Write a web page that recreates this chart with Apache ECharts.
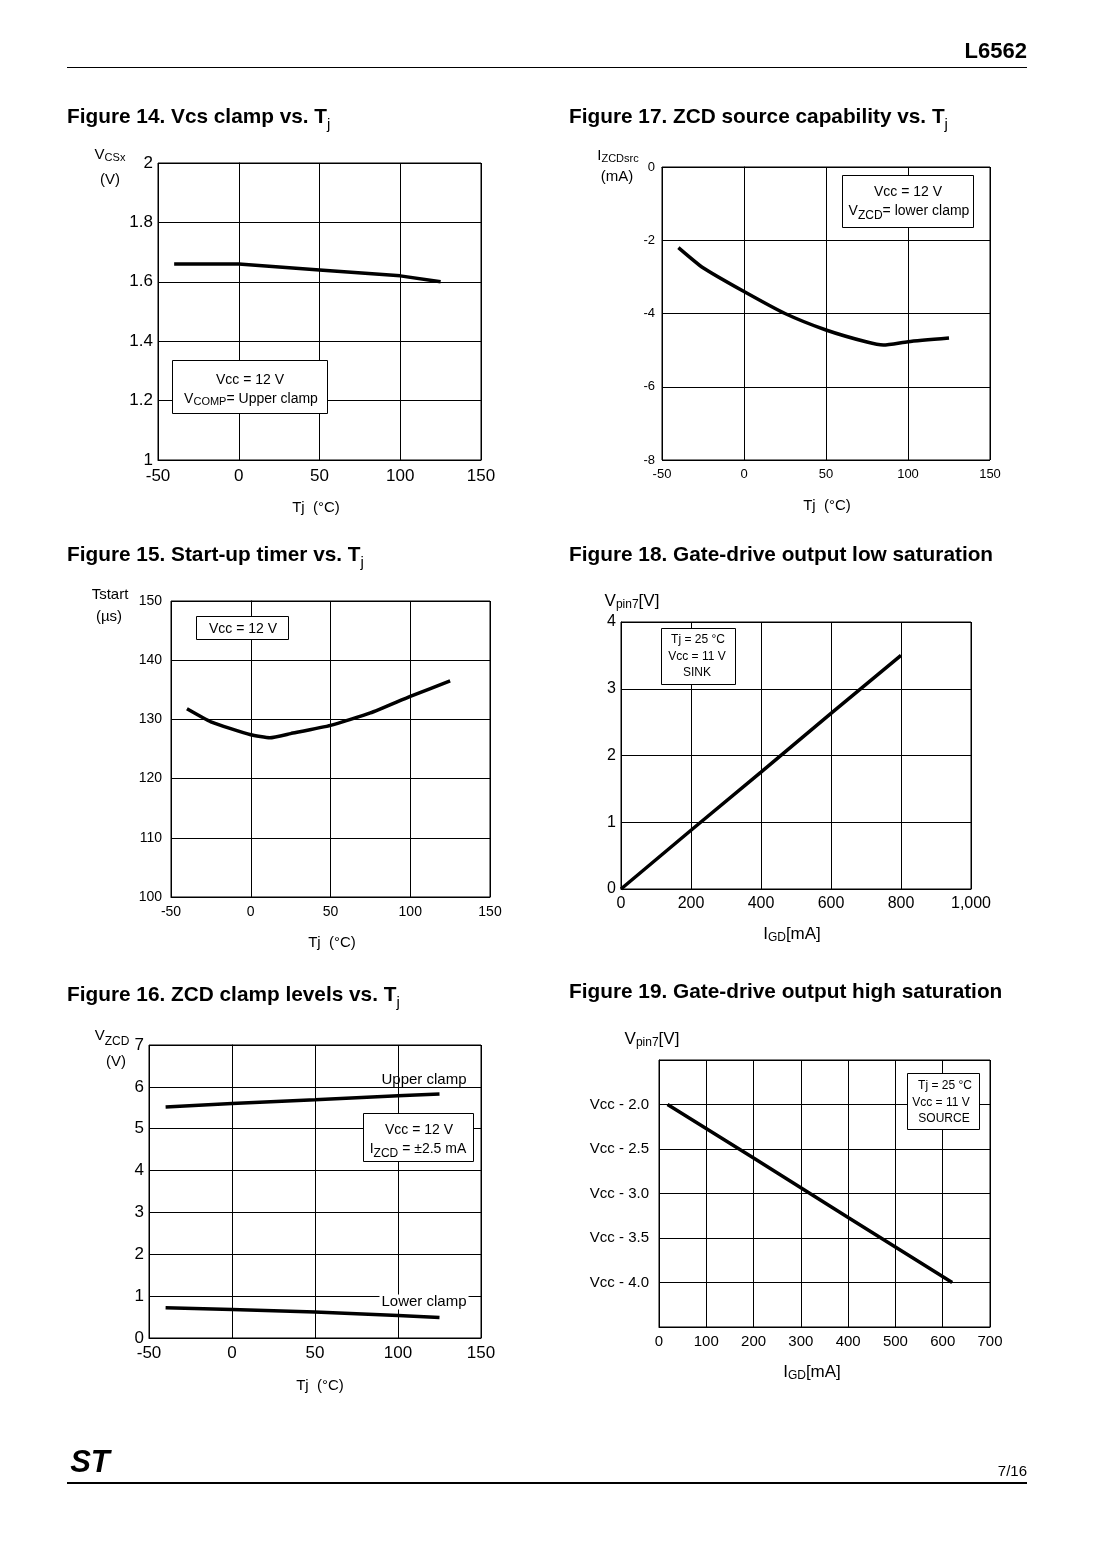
<!DOCTYPE html>
<html><head><meta charset="utf-8">
<script src="https://cdn.jsdelivr.net/npm/echarts@6/dist/echarts.min.js"></script>
<style>html,body{margin:0;padding:0;background:#fff}#c{width:1094px;height:1550px}</style>
</head><body><div id="c"></div>
<script>
// ---- Data ----
// Figure 14: Vcs clamp vs Tj
const tj14 = [-40, 0, 50, 100, 125];
const vcs14 = [1.66, 1.66, 1.64, 1.62, 1.60];
// Figure 15: Start-up timer vs Tj
const tj15 = [-40, -25, 0, 12, 25, 50, 75, 100, 125];
const tstart15 = [131.8, 129.6, 127.4, 126.9, 127.6, 129.0, 131.1, 133.9, 136.5];
// Figure 16: ZCD clamp levels vs Tj
const tj16 = [-40, 0, 50, 100, 125];
const upper16 = [5.52, 5.60, 5.69, 5.79, 5.83];
const lower16 = [0.72, 0.68, 0.62, 0.54, 0.49];
// Figure 17: ZCD source capability vs Tj
const tj17 = [-40, -25, 0, 25, 50, 75, 85, 100, 125];
const izcd17 = [-2.2, -2.75, -3.4, -4.0, -4.45, -4.78, -4.86, -4.77, -4.67];
// Figure 18: Gate-drive output low saturation
const igd18 = [0, 200, 400, 600, 800];
const vpin18 = [0, 0.88, 1.75, 2.63, 3.5];
// Figure 19: Gate-drive output high saturation (value relative to Vcc)
const igd19 = [18, 200, 400, 620];
const vpin19 = [-2.0, -2.6, -3.27, -4.0];

const FF = "'Liberation Sans', Arial, Helvetica, sans-serif";
const pairs = (xs, ys) => xs.map((x, i) => [x, ys[i]]);

const grids = [
  {left: 158, top: 163, width: 323, height: 297}, // 14
  {left: 662, top: 167, width: 328, height: 293}, // 17
  {left: 171, top: 601, width: 319, height: 296}, // 15
  {left: 621, top: 622, width: 350, height: 267}, // 18
  {left: 149, top: 1045, width: 332, height: 293}, // 16
  {left: 659, top: 1060, width: 331, height: 267}  // 19
].map(g => Object.assign({show: true, borderColor: '#000', borderWidth: 1, backgroundColor: '#fff'}, g));

function axis(gi, min, max, interval, fs, margin, fmt) {
  return {
    type: 'value', gridIndex: gi, min, max, interval,
    axisTick: {show: false},
    axisLine: {show: true, lineStyle: {color: '#000', width: 1}},
    splitLine: {show: true, lineStyle: {color: '#000', width: 1}},
    axisLabel: {fontSize: fs, color: '#000', fontFamily: FF, margin, formatter: fmt,
                showMinLabel: true, showMaxLabel: true}
  };
}

const xAxes = [
  axis(0, -50, 150, 50, 17, 8),
  axis(1, -50, 150, 50, 13, 8),
  axis(2, -50, 150, 50, 14, 8),
  axis(3, 0, 1000, 200, 16, 7, v => v.toLocaleString('en-US')),
  axis(4, -50, 150, 50, 17, 7),
  axis(5, 0, 700, 100, 15, 7)
];
const yAxes = [
  axis(0, 1, 2, 0.2, 17, 5),
  axis(1, -8, 0, 2, 13, 7),
  axis(2, 100, 150, 10, 14, 9),
  axis(3, 0, 4, 1, 16, 5),
  axis(4, 0, 7, 1, 17, 5),
  axis(5, -4.5, -1.5, 0.5, 15, 10,
       v => (v < -4.49 || v > -1.51) ? '' : 'Vcc - ' + (-v).toFixed(1))
];

function line(gi, xs, ys, sm) {
  return {type: 'line', xAxisIndex: gi, yAxisIndex: gi, data: pairs(xs, ys),
          showSymbol: false, smooth: sm || false, lineStyle: {color: '#000', width: 3.5}, z: 5};
}
const series = [
  line(0, tj14, vcs14),
  line(1, tj17, izcd17, 0.2),
  line(2, tj15, tstart15, 0.15),
  line(3, igd18, vpin18),
  line(4, tj16, upper16),
  line(4, tj16, lower16),
  line(5, igd19, vpin19)
];

// ---- graphic helpers ----
function T(x, y, text, size, opts) {
  opts = opts || {};
  return {type: 'text', x, y, z: 100, style: Object.assign({
    text, fontSize: size, fontFamily: FF, fill: '#000',
    align: opts.align || 'center', verticalAlign: 'middle'
  }, opts.style || {})};
}
function R(text, rich, x, y, align) {
  return {type: 'text', x, y, z: 100, style: {
    text, rich, fill: '#000', fontFamily: FF, align: align || 'center', verticalAlign: 'middle'}};
}
function box(x1, y1, x2, y2) {
  return {type: 'rect', z: 90, shape: {x: x1 + 0.5, y: y1 + 0.5, width: x2 - x1, height: y2 - y1},
          style: {fill: '#fff', stroke: '#000', lineWidth: 1}};
}
function hl(x1, x2, y, w) {
  return {type: 'line', z: 90, shape: {x1, y1: y, x2, y2: y}, style: {stroke: '#000', lineWidth: w}};
}
const f = (size, extra) => Object.assign({fontSize: size, fontFamily: FF, fill: '#000'}, extra || {});
const titleRich = {
  t: f(20.8, {fontWeight: 'bold', lineHeight: 24}),
  s: f(15, {lineHeight: 31, verticalAlign: 'bottom'})
};
const subLow = (big, small) => ({
  a: f(big, {lineHeight: big + 2}),
  b: f(small, {lineHeight: big + 8, verticalAlign: 'bottom'})
});
const subBase = (big, small) => ({
  a: f(big, {lineHeight: big + 2}),
  b: f(small, {lineHeight: big + 2, verticalAlign: 'bottom'})
});

const graphics = [
  // header / footer
  T(1027, 52, 'L6562', 22, {align: 'right', style: {fontWeight: 'bold'}}),
  hl(67, 1027, 67.5, 1),
  hl(67, 1027, 1483, 2),
  T(1027, 1472, '7/16', 15, {align: 'right'}),
  T(90, 1463, 'ST', 31, {style: {fontWeight: 'bold', fontStyle: 'italic', fontFamily: "'Liberation Sans Narrow', 'Liberation Sans', Arial"}}),

  // titles
  R('{t|Figure 14. Vcs clamp vs. T}{s|j}', titleRich, 67, 117, 'left'),
  R('{t|Figure 17. ZCD source capability vs. T}{s|j}', titleRich, 569, 117, 'left'),
  R('{t|Figure 15. Start-up timer vs. T}{s|j}', titleRich, 67, 555, 'left'),
  R('{t|Figure 18. Gate-drive output low saturation}', titleRich, 569, 555, 'left'),
  R('{t|Figure 16. ZCD clamp levels vs. T}{s|j}', titleRich, 67, 995, 'left'),
  R('{t|Figure 19. Gate-drive output high saturation}', titleRich, 569, 992, 'left'),

  // Fig 14
  R('{a|V}{b|CSx}', subBase(15, 11), 110, 155),
  T(110, 180, '(V)', 15),
  T(316, 508, 'Tj  (°C)', 15),
  box(172, 360, 327, 413),
  T(250, 380, 'Vcc = 12 V', 14),
  R('{a|V}{b|COMP}{a|= Upper clamp}', subBase(14, 11), 251, 399),

  // Fig 17
  R('{a|I}{b|ZCDsrc}', subBase(15, 11), 618, 156),
  T(617, 177, '(mA)', 15),
  T(827, 506, 'Tj  (°C)', 15),
  box(842, 175, 973, 227),
  T(908, 192, 'Vcc = 12 V', 14),
  R('{a|V}{b|ZCD}{a|= lower clamp}', subLow(14, 12), 909, 211),

  // Fig 15
  T(110, 595, 'Tstart', 15),
  T(109, 617, '(µs)', 15),
  T(332, 943, 'Tj  (°C)', 15),
  box(196, 616, 288, 639),
  T(243, 629, 'Vcc = 12 V', 14),

  // Fig 18
  R('{a|V}{b|pin7}{a|[V]}', subBase(17, 12), 632, 601),
  R('{a|I}{b|GD}{a|[mA]}', subBase(17, 12), 792, 934),
  box(661, 628, 735, 684),
  T(698, 640, 'Tj = 25 °C', 12),
  T(697, 657, 'Vcc = 11 V', 12),
  T(697, 673, 'SINK', 12),

  // Fig 16
  R('{a|V}{b|ZCD}', subLow(15, 12), 112, 1036),
  T(116, 1062, '(V)', 15),
  T(320, 1386, 'Tj  (°C)', 15),
  T(424, 1080, 'Upper clamp', 15),
  T(424, 1302, 'Lower clamp', 15, {style: {backgroundColor: '#fff', padding: [0, 2, 0, 2]}}),
  box(363, 1113, 473, 1161),
  T(419, 1130, 'Vcc = 12 V', 14),
  R('{a|I}{b|ZCD}{a| = ±2.5 mA}', subLow(14, 12), 418, 1149),

  // Fig 19
  R('{a|V}{b|pin7}{a|[V]}', subBase(17, 12), 652, 1039),
  R('{a|I}{b|GD}{a|[mA]}', subBase(17, 12), 812, 1372),
  box(907, 1073, 979, 1129),
  T(945, 1086, 'Tj = 25 °C', 12),
  T(941, 1103, 'Vcc = 11 V', 12),
  T(944, 1119, 'SOURCE', 12)
];

const chart = echarts.init(document.getElementById('c'), null, {renderer: 'canvas'});
chart.setOption({
  animation: false,
  backgroundColor: '#fff',
  grid: grids,
  xAxis: xAxes,
  yAxis: yAxes,
  series,
  graphic: graphics
});
</script>
</body></html>
